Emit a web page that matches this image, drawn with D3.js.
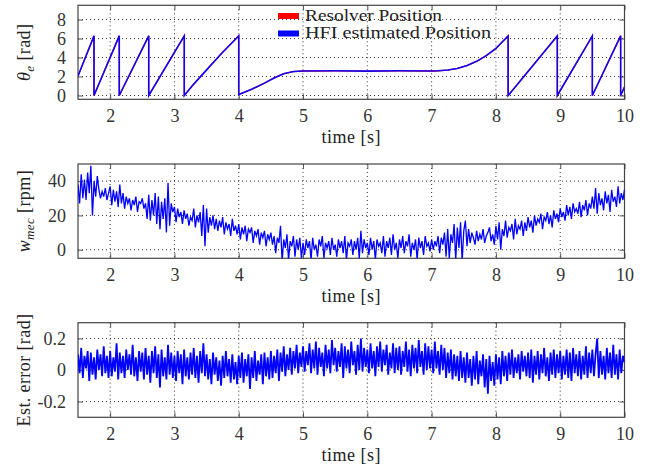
<!DOCTYPE html>
<html>
<head>
<meta charset="utf-8">
<script src="https://cdn.jsdelivr.net/npm/d3@7"></script>
<style>
  body { margin: 0; background: #fff; }
  svg { display: block; }
  text { font-family: "Liberation Serif", "Times New Roman", serif; fill: #222; }
</style>
</head>
<body>
<div id="chart"></div>
<script>
/**********************/
/******* data         */
/**********************/

const timeDomain = [1.5, 10];
const timeTicks = [2, 3, 4, 5, 6, 7, 8, 9, 10];

// electrical position (rad), break points of the saw tooth
const posTime = [1.5, 1.749, 1.749, 2.142, 2.142, 2.6, 2.6, 3.153, 3.153, 3.3, 3.5, 3.75, 4.0, 4.0,
  4.2, 4.4, 4.55, 4.7, 4.85, 5.0, 5.5, 6.0, 6.5, 7.0, 7.1, 7.25, 7.4, 7.55, 7.7, 7.85, 8.0, 8.19,
  8.19, 8.955, 8.955, 9.5, 9.5, 9.94, 9.94, 10.0];
const resolverPos = [2.05, 6.28, 0, 6.28, 0, 6.28, 0, 6.28, 0, 1.2, 2.7, 4.55, 6.28, 0.1,
  0.65, 1.3, 1.85, 2.3, 2.52, 2.58, 2.6, 2.57, 2.6, 2.58, 2.6, 2.68, 2.85, 3.15, 3.6, 4.2, 4.95, 6.28,
  0, 6.28, 0, 6.28, 0, 6.28, 0, 0.9];
const hfiPos = [2.05, 6.28, 0, 6.28, 0, 6.28, 0, 6.28, 0, 1.2, 2.7, 4.55, 6.28, 0.1,
  0.65, 1.3, 1.85, 2.3, 2.52, 2.58, 2.6, 2.57, 2.6, 2.58, 2.6, 2.68, 2.85, 3.15, 3.6, 4.2, 4.95, 6.28,
  0, 6.28, 0, 6.28, 0, 6.28, 0, 0.9];
const posTicks = [0, 2, 4, 6, 8];
const legendLabels = ["Resolver Position", "HFI estimated Position"];

// mechanical speed (rpm), sampled every 25 ms from 1.5 s
const wmecStart = 1.5, wmecStep = 0.025;
const wmecValues = [
  38, 27, 44, 30, 41, 29, 45, 33, 49, 20, 40, 31, 43, 35, 30, 34, 31, 36, 29, 33,
  37, 26, 35, 28, 34, 25, 38, 27, 33, 24, 31, 27, 30, 23, 29, 26, 31, 22, 28, 27,
  30, 24, 27, 18, 32, 17, 29, 20, 33, 15, 31, 12, 28, 18, 30, 10, 39, 14, 27, 22,
  25, 16, 24, 19, 22, 15, 23, 18, 21, 14, 19, 17, 24, 13, 20, 16, 22, 8, 26, 2,
  24, 10, 19, 14, 20, 12, 18, 11, 17, 13, 19, 9, 16, 12, 15, 8, 18, 11, 14, 9,
  15, 6, 13, 9, 14, 5, 12, 10, 13, 4, 11, 8, 12, 3, 10, 7, 11, 2, 9, 6,
  10, 3, 8, -2, 7, 4, 14, -7, 6, 1, 9, -6, 5, 2, 8, -4, 6, 0, 7, -5,
  4, -3, 6, 1, 5, -6, 7, 0, 3, -4, 6, 2, 8, -5, 4, 1, 5, -3, 7, 0,
  3, -4, 6, 1, 5, -2, 8, -6, 4, 2, 6, -3, 5, 0, 7, -5, 11, -2, 6, 1,
  4, -3, 7, 0, 5, -6, 6, 2, 4, -2, 8, -4, 5, 1, 7, -3, 9, 0, 4, -5,
  6, 1, 8, -2, 5, 2, 9, -4, 4, 0, 6, -6, 7, 1, 5, -3, 8, 2, 4, -1,
  6, 0, 5, 2, 8, -2, 7, 3, 10, -4, 12, -5, 9, 4, 15, -6, 13, 1, 16, -7,
  11, 17, 2, 12, 4, 10, 7, 3, 11, 5, 9, 6, 12, 4, 8, 10, 13, 5, 9, 3,
  14, 6, 16, 0, 12, 8, 17, 7, 13, 11, 15, 6, 18, 9, 14, 12, 17, 8, 16, 11,
  19, 13, 17, 10, 20, 14, 18, 16, 21, 12, 19, 17, 22, 15, 20, 13, 23, 18, 21, 16,
  24, 19, 22, 17, 26, 20, 25, 18, 27, 22, 24, 21, 28, 19, 26, 23, 29, 20, 27, 24,
  31, 24, 36, 21, 33, 26, 30, 23, 34, 27, 32, 22, 35, 28, 31, 25, 37, 27, 33, 29, 35
];
const wmecTicks = [0, 20, 40];

// estimation error (rad), sampled every 25 ms from 1.5 s
const errStart = 1.5, errStep = 0.025;
const errValues = [
  .10, -.02, .14, -.05, .09, .01, .12, -.07, .11, -.03, .08, -.06, .13, 0, .10, -.04, .15, -.02, .09, -.05,
  .12, -.04, .08, -.01, .17, -.06, .11, -.02, .09, -.05, .13, 0, .10, -.03, .16, -.04, .08, -.07, .12, -.01,
  .11, -.06, .14, -.03, .09, -.08, .12, -.02, .15, -.05, .10, -.11, .13, -.04, .08, -.06, .16, -.03, .11, -.05,
  .09, -.07, .12, -.02, .10, -.09, .13, -.04, .08, -.06, .11, -.03, .14, -.05, .09, -.08, .12, -.02, .17, -.04,
  .10, -.06, .07, -.09, .11, -.03, .08, -.07, .06, -.10, .09, -.05, .12, -.04, .07, -.08, .10, -.06, .05, -.09,
  .09, -.05, .11, -.08, .07, -.04, .10, -.12, .08, -.05, .12, -.07, .06, -.03, .10, -.09, .11, -.04, .08, -.06,
  .12, -.05, .09, -.02, .13, -.07, .11, -.01, .15, -.04, .10, 0, .14, -.03, .12, .01, .16, -.02, .11, .02,
  .15, -.01, .12, .03, .17, -.02, .13, .01, .18, -.03, .14, .02, .11, -.04, .16, .01, .13, -.02, .19, .03,
  .14, -.01, .12, .02, .17, -.05, .15, .01, .13, -.02, .18, .03, .12, -.03, .16, 0, .20, -.01, .14, .02,
  .13, -.02, .17, .01, .12, -.04, .15, .02, .18, -.01, .13, .03, .16, -.03, .11, .01, .17, -.02, .14, 0,
  .15, -.03, .12, .02, .18, -.01, .13, -.04, .16, .01, .14, -.02, .19, .02, .12, -.03, .17, 0, .15, .01,
  .13, -.02, .18, .01, .12, -.03, .16, 0, .14, -.05, .11, -.02, .13, -.06, .10, -.04, .09, -.07, .12, -.05,
  .08, -.08, .11, -.05, .07, -.10, .09, -.06, .12, -.09, .06, -.04, .10, -.11, .07, -.15, .09, -.07, .05, -.10,
  .10, -.06, .08, -.09, .12, -.04, .09, -.07, .11, -.03, .13, -.05, .08, -.02, .10, -.06, .12, -.01, .09, -.04,
  .11, -.05, .13, -.08, .09, -.03, .12, -.06, .10, -.02, .14, -.04, .08, -.07, .11, -.03, .13, -.05, .10, -.02,
  .12, -.06, .09, -.03, .13, -.05, .11, -.07, .14, -.02, .10, -.04, .12, -.06, .09, -.03, .15, -.05, .11, -.02,
  .13, -.04, .10, .20, -.05, .12, -.03, .09, -.06, .14, -.02, .11, -.05, .16, -.03, .10, -.06, .13, -.02, .09, .05
];
const errTicks = [-0.2, 0, 0.2];

/**********************/
/******* d3           */
/**********************/

const W = 655, H = 472;
const plotLeft = 78, plotRight = 624.5;

const svg = d3.select("#chart")
    .append("svg")
    .attr("width", W)
    .attr("height", H);

const x = d3.scaleLinear().domain(timeDomain).range([plotLeft, plotRight]);

// draws frame, grid, ticks and labels of one panel, returns its y scale and a clipped group
function drawPanel(id, top, bottom, yDomain, yTicks) {
    const y = d3.scaleLinear().domain(yDomain).range([bottom, top]);
    const g = svg.append("g");

    g.append("clipPath").attr("id", "clip-" + id)
        .append("rect")
        .attr("x", plotLeft).attr("y", top)
        .attr("width", plotRight - plotLeft).attr("height", bottom - top);

    // dotted grid
    g.selectAll(".vgrid").data(timeTicks.filter(d => d < timeDomain[1])).join("line")
        .attr("x1", d => x(d)).attr("x2", d => x(d))
        .attr("y1", top).attr("y2", bottom)
        .style("stroke", "#333").style("stroke-width", 1)
        .style("stroke-dasharray", "1,3");
    g.selectAll(".hgrid").data(yTicks).join("line")
        .attr("x1", plotLeft).attr("x2", plotRight)
        .attr("y1", d => y(d)).attr("y2", d => y(d))
        .style("stroke", "#333").style("stroke-width", 1)
        .style("stroke-dasharray", "1,3");

    // axes with inward ticks
    g.append("g")
        .attr("transform", `translate(0, ${bottom})`)
        .call(d3.axisBottom(x).tickValues(timeTicks).tickSize(-5).tickPadding(10).tickFormat(d3.format("d")))
        .call(a => a.select(".domain").remove());
    g.append("g")
        .attr("transform", `translate(0, ${top})`)
        .call(d3.axisTop(x).tickValues(timeTicks).tickSize(-5).tickFormat(""))
        .call(a => a.select(".domain").remove());
    g.append("g")
        .attr("transform", `translate(${plotLeft}, 0)`)
        .call(d3.axisLeft(y).tickValues(yTicks).tickSize(-5).tickPadding(12).tickFormat(d => String(d)))
        .call(a => a.select(".domain").remove());
    g.append("g")
        .attr("transform", `translate(${plotRight}, 0)`)
        .call(d3.axisRight(y).tickValues(yTicks).tickSize(-5).tickFormat(""))
        .call(a => a.select(".domain").remove());

    g.selectAll(".tick line").style("stroke", "#555");
    g.selectAll(".tick text")
        .style("font-family", '"Liberation Serif", serif')
        .style("font-size", "18px")
        .style("fill", "#333");

    g.append("rect")
        .attr("x", plotLeft).attr("y", top)
        .attr("width", plotRight - plotLeft).attr("height", bottom - top)
        .style("fill", "none").style("stroke", "#444").style("stroke-width", 1.2);

    // x-axis label
    svg.append("text")
        .attr("x", (plotLeft + plotRight) / 2)
        .attr("y", bottom + 44)
        .style("text-anchor", "middle")
        .style("font-size", "18px")
        .style("letter-spacing", "0.5px")
        .text("time [s]");

    const data = g.append("g").attr("clip-path", `url(#clip-${id})`);
    return { y, data, cy: (top + bottom) / 2 };
}

// y-axis label with optional italic symbol and subscript
function yLabel(cx, cy, symbol, sub, rest) {
    const t = svg.append("text")
        .attr("transform", `translate(${cx}, ${cy}) rotate(-90)`)
        .style("text-anchor", "middle")
        .style("font-size", "18px")
        .style("letter-spacing", "0.4px");
    if (symbol) {
        t.append("tspan").style("font-style", "italic").text(symbol);
        t.append("tspan").style("font-style", "italic").style("font-size", "13px")
            .attr("dy", 4).text(sub);
        t.append("tspan").attr("dy", -4).text(" " + rest);
    } else {
        t.text(rest);
    }
}

/* panel 1 : electrical position */
const p1 = drawPanel("pos", 5.3, 99.3, [-0.4, 9.5], posTicks);
const posLine = d3.line().x((d, i) => x(posTime[i])).y(d => p1.y(d));

p1.data.append("path")
    .attr("d", posLine(resolverPos))
    .style("fill", "none").style("stroke", "#ff0000").style("stroke-width", 1.3);
p1.data.append("path")
    .attr("d", posLine(hfiPos))
    .style("fill", "none").style("stroke", "#0000ff").style("stroke-width", 1.6)
    .style("opacity", 0.93);

// legend, no frame
const legendColors = ["#ff0000", "#0000ff"];
const legendWidths = [137, 186];
legendLabels.forEach((label, i) => {
    svg.append("rect")
        .attr("x", 278).attr("y", 13 + i * 17.5)
        .attr("width", 21).attr("height", 6)
        .style("fill", legendColors[i]);
    svg.append("text")
        .attr("x", 305).attr("y", 20.5 + i * 17.5)
        .attr("textLength", legendWidths[i])
        .attr("lengthAdjust", "spacingAndGlyphs")
        .style("font-size", "16px")
        .text(label);
});

yLabel(30, p1.cy, "θ", "e", "[rad]");

/* panel 2 : mechanical speed */
const p2 = drawPanel("wmec", 164, 258.3, [-5, 50], wmecTicks);
const wmecLine = d3.line().x((d, i) => x(wmecStart + i * wmecStep)).y(d => p2.y(d));
p2.data.append("path")
    .attr("d", wmecLine(wmecValues))
    .style("fill", "none").style("stroke", "#0000ff").style("stroke-width", 1.3);

yLabel(30, p2.cy, "w", "mec", "[rpm]");

/* panel 3 : estimation error */
const p3 = drawPanel("err", 322.7, 417.3, [-0.3, 0.3], errTicks);
const errLine = d3.line().x((d, i) => x(errStart + i * errStep)).y(d => p3.y(d));
p3.data.append("path")
    .attr("d", errLine(errValues))
    .style("fill", "none").style("stroke", "#0000ff").style("stroke-width", 1.8);

yLabel(30, p3.cy, null, null, "Est. error [rad]");
</script>
</body>
</html>
